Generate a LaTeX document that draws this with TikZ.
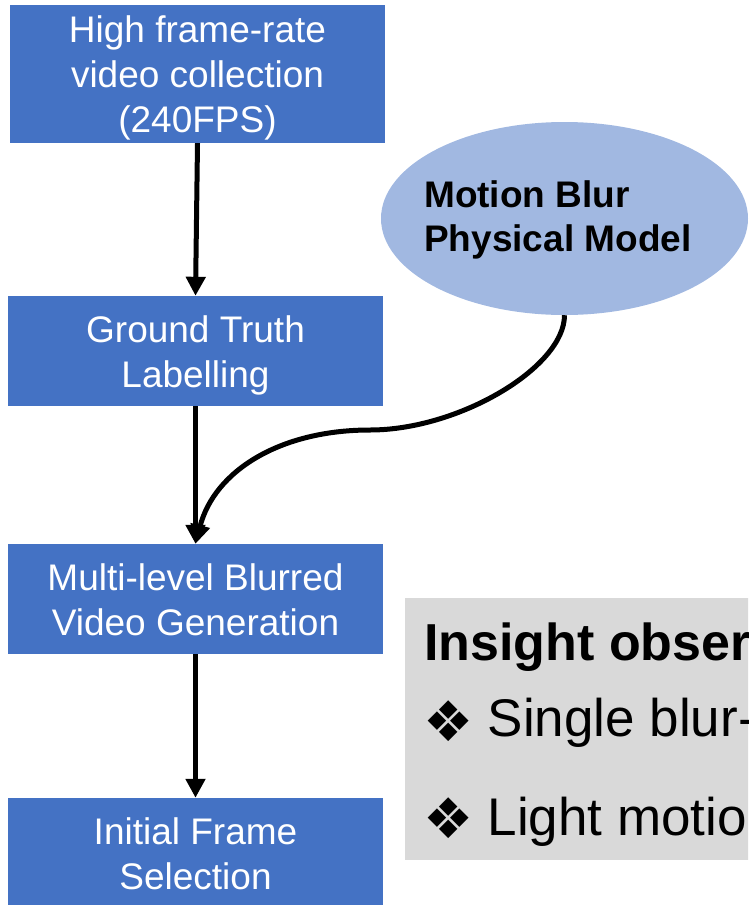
\documentclass[tikz,border=0pt]{standalone}
\usepackage{fontspec}
\setmainfont{Liberation Sans}
\newfontfamily\symfont{DejaVu Sans}
\usetikzlibrary{shapes.geometric,arrows.meta}
\definecolor{boxblue}{HTML}{4472C4}
\definecolor{ellblue}{HTML}{A1B8E1}
\definecolor{panelgray}{HTML}{D9D9D9}

\begin{document}
\begin{tikzpicture}[x=1pt,y=-1pt,
  stepbox/.style={rectangle, fill=boxblue, draw=none, minimum width=375pt,
    minimum height=110pt, inner sep=0pt},
  steplabel/.style={anchor=base, inner sep=0pt, text=white,
    font=\fontsize{37}{45}\selectfont},
  modellabel/.style={anchor=base west, inner sep=0pt, text=black,
    font=\bfseries\fontsize{37}{44}\selectfont},
  flow/.style={line width=5pt, -{Triangle[length=19pt,width=19pt]}},
  paneltext/.style={anchor=base west, inner sep=0pt, text=black},
  panelmark/.style={inner sep=0pt, text=black, font=\symfont\fontsize{56}{60}\selectfont},
]
\useasboundingbox (0,0) rectangle (748,905);
\clip (0,0) rectangle (748,905);

% pipeline steps
\node[stepbox, minimum height=138pt] (collect) at (197.5,74) {};
\node[steplabel] (collect1) at (197.5,42) {High frame-rate};
\node[steplabel] (collect2) at (197.5,87) {video collection};
\node[steplabel] (collect3) at (197.5,132) {(240FPS)};

\node[stepbox] (truth) at (195.5,351) {};
\node[steplabel] (truth1) at (195.5,342) {Ground Truth};
\node[steplabel] (truth2) at (195.5,387) {Labelling};

\node[stepbox] (generate) at (195.5,599) {};
\node[steplabel] (generate1) at (195.5,590) {Multi-level Blurred};
\node[steplabel] (generate2) at (195.5,635) {Video Generation};

\node[stepbox] (select) at (195.5,853) {};
\node[steplabel] (select1) at (195.5,844) {Initial Frame};
\node[steplabel] (select2) at (195.5,889) {Selection};

% physical model
\node[ellipse, fill=ellblue, draw=none, minimum width=367pt,
  minimum height=193pt, inner sep=0pt] (model) at (564.5,218.5) {};
\node[modellabel] (model1) at (424,207) {Motion Blur};
\node[modellabel] (model2) at (424,251) {Physical Model};

% connectors
\coordinate (bend) at (370,430);
\draw[flow] (collect.south) -- (truth.north);
\draw[flow] (truth.south) -- (generate.north);
\draw[flow] (generate.south) -- (select.north);
\draw[flow] (model.south) .. controls +(0,52) and +(89,0) .. (bend)
  .. controls +(-90,0) and +(19,-73) .. (generate.north);

% insight panel
\node[rectangle, fill=panelgray, draw=none, anchor=north west,
  minimum width=360pt, minimum height=262pt, inner sep=0pt] (panel) at (405,598) {};
\node[paneltext, font=\bfseries\fontsize{52}{60}\selectfont] (title) at (424,660) {Insight obser};
\node[panelmark] (mark1) at (449,721.5) {❖};
\node[paneltext, font=\fontsize{53}{60}\selectfont] (item1) at (487.5,736) {Single blur-};
\node[panelmark] (mark2) at (449,818) {❖};
\node[paneltext, font=\fontsize{53}{60}\selectfont] (item2) at (487.5,835) {Light motio};
\end{tikzpicture}
\end{document}
